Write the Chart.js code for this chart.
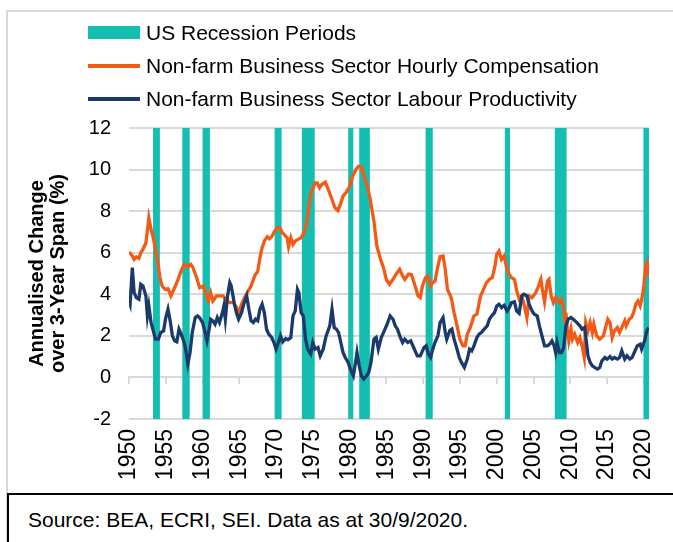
<!DOCTYPE html>
<html>
<head>
<meta charset="utf-8">
<script src="https://cdn.jsdelivr.net/npm/chart.js@4.4.1/dist/chart.umd.min.js"></script>
<style>
  html, body { margin: 0; padding: 0; background: #fff; }
  body { width: 673px; height: 542px; position: relative; overflow: hidden; font-family: "Liberation Sans", Arial, sans-serif; }
  #frame { position: absolute; left: 6px; top: 10px; width: 700px; height: 600px; border: 2px solid #d9d9d9; box-sizing: border-box; }
  #wrap { position: absolute; left: 0; top: 0; width: 673px; height: 542px; }
  #legend { position: absolute; left: 88px; top: 16px; }
  .item { position: absolute; left: 0; height: 33px; white-space: nowrap; font-size: 21px; color: #000; }
  .sw { position: absolute; left: 0; width: 52px; }
  .lbl { position: absolute; left: 58px; top: 0; line-height: 33px; }
  #source { position: absolute; left: 7px; top: 493px; width: 700px; height: 100px; border: 2px solid #000; box-sizing: border-box; background: #fff; }
  #source span { position: absolute; left: 19px; top: 13px; font-size: 21px; color: #000; }
</style>
</head>
<body>
<div id="frame"></div>
<div id="wrap"><canvas id="c"></canvas></div>
<div id="legend"></div>
<div id="source"><span>Source: BEA, ECRI, SEI. Data as at 30/9/2020.</span></div>
<script>
// ---- Data ----
const seriesNames = ['US Recession Periods', 'Non-farm Business Sector Hourly Compensation', 'Non-farm Business Sector Labour Productivity'];

const recessionStart = [1953.25, 1957.25, 1960.0, 1969.8, 1973.5, 1979.8, 1981.3, 1990.33, 2001.1, 2007.9, 2019.95];
const recessionEnd   = [1954.2, 1958.25, 1961.0, 1970.75, 1975.25, 1980.5, 1982.75, 1991.3, 2001.8, 2009.5, 2020.7];

const compYears = [1950.0,1950.35,1950.7,1951.0,1951.35,1951.6,1951.9,1952.3,1952.55,1952.7,1953.0,1953.3,1953.6,1954.0,1954.2,1954.5,1954.9,1955.3,1955.7,1956.1,1956.6,1957.0,1957.5,1958.0,1958.4,1958.7,1959.2,1959.6,1960.1,1960.4,1960.8,1961.1,1961.4,1961.9,1962.3,1962.8,1963.3,1963.7,1964.2,1964.6,1964.9,1965.3,1965.7,1966.2,1966.6,1967.1,1967.5,1967.8,1968.1,1968.45,1968.8,1969.1,1969.4,1969.8,1970.2,1970.5,1970.8,1971.2,1971.5,1971.7,1972.0,1972.3,1972.6,1973.0,1973.4,1973.9,1974.2,1974.6,1974.9,1975.3,1975.6,1975.9,1976.2,1976.7,1977.1,1977.6,1978.0,1978.4,1978.8,1979.1,1979.5,1980.0,1980.4,1980.9,1981.2,1981.6,1981.9,1982.4,1982.8,1983.3,1983.7,1984.2,1984.6,1985.0,1985.4,1985.9,1986.3,1986.8,1987.2,1987.5,1988.0,1988.4,1988.9,1989.3,1989.6,1989.9,1990.3,1990.6,1991.0,1991.3,1991.6,1992.0,1992.3,1992.7,1993.0,1993.3,1993.8,1994.2,1994.7,1995.0,1995.4,1995.7,1996.0,1996.4,1996.9,1997.3,1997.8,1998.2,1998.6,1999.0,1999.4,1999.8,2000.0,2000.3,2000.65,2001.0,2001.4,2001.7,2002.0,2002.4,2002.7,2003.05,2003.4,2003.7,2004.1,2004.4,2004.8,2005.3,2005.6,2006.0,2006.2,2006.5,2006.9,2007.1,2007.4,2007.7,2008.0,2008.5,2008.8,2009.1,2009.3,2009.4,2009.6,2009.8,2010.1,2010.3,2010.6,2011.0,2011.3,2011.6,2011.9,2012.1,2012.4,2012.7,2013.0,2013.2,2013.6,2014.0,2014.5,2014.8,2015.1,2015.4,2015.7,2016.0,2016.4,2016.7,2017.0,2017.4,2017.6,2018.0,2018.3,2018.6,2018.9,2019.2,2019.5,2019.8,2020.0,2020.25,2020.45,2020.7];
const compValues = [6.03,5.9,5.68,5.8,5.73,6.0,6.16,6.48,7.2,7.68,7.12,6.72,6.16,5.36,4.8,4.4,4.24,4.27,3.92,4.24,4.64,5.04,5.44,5.33,5.44,5.28,4.8,4.32,4.4,4.08,3.68,4.08,3.68,3.92,3.92,3.92,3.68,3.6,3.6,3.36,3.12,3.52,3.84,4.16,4.4,4.9,5.1,5.75,6.24,6.6,6.77,6.67,6.77,7.04,7.2,7.2,6.99,6.83,6.72,6.29,6.72,6.4,6.56,6.64,6.72,7.04,7.52,8.64,9.04,9.36,9.36,9.12,9.28,9.39,9.04,8.56,8.16,8.03,8.4,8.72,8.88,9.2,9.68,10.03,10.16,10.13,9.76,9.2,8.56,7.52,6.32,5.68,5.28,4.7,4.48,4.72,4.96,5.2,4.88,4.72,4.96,4.95,4.4,3.92,3.84,4.4,4.8,4.88,4.4,4.56,4.64,5.36,5.81,5.84,5.2,4.24,3.84,3.12,2.32,1.84,1.52,1.52,2.08,2.4,2.96,3.04,3.92,4.24,4.56,4.72,4.8,5.44,5.92,6.08,5.68,5.84,5.2,4.96,4.8,4.72,4.2,3.76,3.92,3.52,2.88,3.92,3.84,4.08,4.32,4.72,4.24,3.63,4.64,4.72,3.92,3.6,3.84,3.6,3.76,3.28,2.64,3.12,2.32,1.76,2.32,1.84,2.08,1.68,1.92,1.52,0.96,2.64,2.24,2.64,2.16,2.56,2.0,1.84,2.0,2.4,2.8,2.64,1.92,2.24,2.4,2.16,2.4,2.72,2.48,2.8,2.88,3.12,3.52,3.68,3.44,3.92,4.4,5.36,5.52,4.88];

const prodYears = [1950.0,1950.15,1950.45,1950.7,1951.0,1951.35,1951.6,1951.9,1952.3,1952.5,1952.7,1953.0,1953.3,1953.6,1954.0,1954.3,1954.7,1955.0,1955.3,1955.6,1955.9,1956.2,1956.5,1956.8,1957.1,1957.5,1957.7,1958.0,1958.3,1958.6,1959.0,1959.3,1959.6,1960.0,1960.3,1960.6,1960.9,1961.1,1961.4,1961.7,1962.0,1962.3,1962.7,1962.9,1963.1,1963.4,1963.7,1963.9,1964.3,1964.6,1964.9,1965.3,1965.6,1966.0,1966.3,1966.6,1966.9,1967.2,1967.5,1967.8,1968.1,1968.4,1968.7,1969.0,1969.4,1969.7,1970.0,1970.4,1970.6,1970.9,1971.3,1971.6,1972.0,1972.3,1972.6,1972.9,1973.1,1973.4,1973.7,1974.0,1974.3,1974.7,1975.0,1975.3,1975.7,1976.0,1976.4,1976.8,1977.3,1977.6,1977.9,1978.2,1978.5,1978.8,1979.1,1979.4,1979.8,1980.1,1980.5,1980.8,1981.0,1981.3,1981.6,1981.9,1982.3,1982.6,1982.9,1983.3,1983.6,1983.9,1984.3,1984.7,1985.1,1985.5,1985.9,1986.2,1986.5,1986.9,1987.2,1987.5,1987.9,1988.3,1988.7,1989.2,1989.6,1990.1,1990.4,1990.7,1991.0,1991.3,1991.6,1992.0,1992.3,1992.7,1993.0,1993.2,1993.6,1993.9,1994.2,1994.6,1994.9,1995.2,1995.6,1996.0,1996.3,1996.6,1996.9,1997.3,1997.6,1997.9,1998.3,1998.7,1999.0,1999.3,1999.7,2000.0,2000.3,2000.65,2001.0,2001.4,2001.7,2002.0,2002.4,2002.7,2003.05,2003.4,2003.7,2004.1,2004.4,2004.8,2005.1,2005.5,2005.8,2006.2,2006.5,2006.9,2007.2,2007.5,2007.8,2008.0,2008.2,2008.5,2008.8,2009.1,2009.4,2009.7,2010.1,2010.4,2010.9,2011.3,2011.6,2011.95,2012.2,2012.4,2012.7,2013.0,2013.3,2013.7,2014.0,2014.3,2014.7,2015.0,2015.4,2015.7,2016.0,2016.4,2016.7,2017.0,2017.4,2017.7,2018.1,2018.4,2018.7,2019.1,2019.5,2019.7,2020.1,2020.4,2020.65];
const prodValues = [3.68,3.52,5.28,4.08,3.84,3.76,4.48,4.4,3.92,2.96,3.44,2.64,2.24,1.84,1.84,2.16,2.24,2.88,3.28,2.72,2.0,1.76,1.71,2.32,2.08,1.68,1.36,0.64,1.2,2.16,2.88,2.96,2.88,2.64,2.24,1.76,2.32,2.8,2.72,2.56,2.88,2.64,3.12,3.44,2.8,3.92,4.56,4.4,3.6,3.12,2.8,3.12,3.52,3.92,3.28,2.72,2.64,2.8,2.72,3.28,3.52,3.12,2.32,2.08,1.92,1.68,1.36,1.76,2.0,1.71,1.87,1.81,1.92,2.96,3.2,4.24,4.08,3.12,2.96,1.84,1.36,1.12,1.68,1.36,1.44,1.04,1.36,2.0,2.48,3.28,2.4,2.32,2.16,1.68,1.2,0.96,0.72,0.4,0.08,0.72,1.2,0.56,0.08,-0.08,0.08,0.24,0.72,1.84,1.92,1.36,1.92,2.24,2.56,2.96,2.8,2.48,2.32,1.92,1.68,1.84,1.68,1.76,1.44,1.04,1.04,1.44,1.52,1.12,0.96,1.36,1.68,2.0,2.64,2.88,2.16,1.84,2.24,2.32,1.84,1.36,0.96,0.72,0.48,0.88,1.36,1.28,1.52,1.92,2.08,2.16,2.32,2.48,2.8,2.96,3.12,3.44,3.52,3.36,3.47,3.2,3.36,3.6,3.64,3.2,3.08,3.92,4.0,3.92,3.52,3.2,3.04,2.96,2.48,1.92,1.52,1.52,1.6,1.76,1.52,1.2,1.68,1.2,1.2,1.44,2.48,2.8,2.88,2.8,2.64,2.48,2.32,2.4,1.68,1.04,0.72,0.56,0.48,0.4,0.48,0.8,0.96,0.88,1.0,0.88,0.96,0.88,0.96,1.28,0.88,1.04,0.88,0.96,1.2,1.52,1.6,1.36,1.76,2.24,2.4];

const xTickYears = [1950,1955,1960,1965,1970,1975,1980,1985,1990,1995,2000,2005,2010,2015,2020];
const yAxisMin = -2, yAxisMax = 12, yStep = 2;
const xAxisMin = 1950, xAxisMax = 2020.7;
const yTitle = ['Annualised Change', 'over 3-Year Span (%)'];

// ---- Styles ----
const TEAL = '#14BFB2', ORANGE = '#F25A16', NAVY = '#1B3A6B', GRID = '#d9d9d9';
const FONT = '"Liberation Sans", Arial, sans-serif';
Chart.defaults.font.family = FONT;
Chart.defaults.color = '#000';

// legend (HTML)
const legendEl = document.getElementById('legend');
const swatches = [
  {top: 0, style: 'top:10px;height:13px;background:' + TEAL},
  {top: 33, style: 'top:15px;height:4px;background:' + ORANGE},
  {top: 66, style: 'top:15px;height:4px;background:' + NAVY}
];
seriesNames.forEach((name, i) => {
  const d = document.createElement('div');
  d.className = 'item';
  d.style.top = swatches[i].top + 'px';
  d.innerHTML = '<div class="sw" style="' + swatches[i].style + '"></div><div class="lbl"></div>';
  d.querySelector('.lbl').textContent = name;
  legendEl.appendChild(d);
});

// recession rectangles built from start/end arrays
const recessionPts = [];
recessionStart.forEach((s, i) => {
  const e = recessionEnd[i];
  recessionPts.push({x: s, y: yAxisMin}, {x: s, y: yAxisMax}, {x: e, y: yAxisMax}, {x: e, y: yAxisMin});
});
const compPts = compYears.map((x, i) => ({x, y: compValues[i]}));
const prodPts = prodYears.map((x, i) => ({x, y: prodValues[i]}));

const noPad = s => { s.paddingLeft = 0; s.paddingRight = 0; };

new Chart(document.getElementById('c'), {
  type: 'line',
  data: {
    datasets: [
      {label: seriesNames[2], data: prodPts, borderColor: NAVY, borderWidth: 3.3, pointRadius: 0, tension: 0, order: 0, fill: false},
      {label: seriesNames[1], data: compPts, borderColor: ORANGE, borderWidth: 3.3, pointRadius: 0, tension: 0, order: 1, fill: false},
      {label: seriesNames[0], data: recessionPts, borderWidth: 0, borderColor: 'rgba(0,0,0,0)', backgroundColor: TEAL, pointRadius: 0, tension: 0, order: 2, fill: {value: yAxisMin}}
    ]
  },
  options: {
    responsive: true,
    maintainAspectRatio: false,
    animation: false,
    events: [],
    layout: {padding: {left: 0, top: 128, right: 24, bottom: 53}},
    plugins: {legend: {display: false}, tooltip: {enabled: false}},
    scales: {
      x: {
        type: 'linear', position: 'bottom', min: xAxisMin, max: xAxisMax,
        afterBuildTicks: s => { s.ticks = xTickYears.map(v => ({value: v})); },
        afterFit: s => { s.height = 70; noPad(s); },
        grid: {display: false, drawTicks: false},
        border: {display: false},
        ticks: {autoSkip: false, minRotation: 90, maxRotation: 90, padding: 10, font: {size: 23}, color: '#000', callback: v => String(v)}
      },
      x0: {
        type: 'linear', axis: 'x', position: {y: 0}, min: xAxisMin, max: xAxisMax,
        afterBuildTicks: s => { s.ticks = xTickYears.map(v => ({value: v})); },
        afterFit: s => { noPad(s); },
        grid: {drawOnChartArea: false, drawTicks: true, tickLength: 6, color: GRID, lineWidth: 2},
        border: {display: true, color: GRID, width: 2},
        ticks: {display: false}
      },
      y: {
        type: 'linear', min: yAxisMin, max: yAxisMax,
        afterFit: s => { s.width = 129; },
        ticks: {stepSize: yStep, padding: 18, font: {size: 20}, color: '#000'},
        grid: {color: GRID, lineWidth: 2, drawTicks: false},
        border: {display: false},
        title: {display: true, text: yTitle, font: {size: 20, weight: 'bold', lineHeight: 1.05}, color: '#000', padding: {top: 26.5, bottom: 0}}
      }
    }
  }
});
</script>
</body>
</html>
